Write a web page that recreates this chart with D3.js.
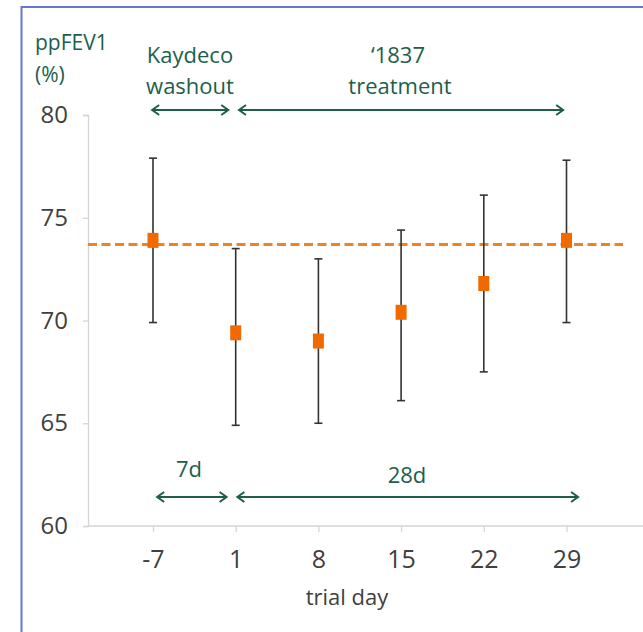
<!DOCTYPE html>
<head>
<meta charset="utf-8">
<script src="https://d3js.org/d3.v7.min.js"></script>
<style>
body { margin:0; background:white; }
text { font-family: "Open Sans", sans-serif; }
</style>
</head>
<body>
<div id="container"></div>
<script>
// data
const days = ["-7", "1", "8", "15", "22", "29"];
const means = [73.9, 69.4, 69.0, 70.4, 71.8, 73.9];
const upper = [77.9, 73.5, 73.0, 74.4, 76.1, 77.8];
const lower = [69.9, 64.9, 65.0, 66.1, 67.5, 69.9];
const baseline = 73.7;
const yTicks = [60, 65, 70, 75, 80];

// annotation arrows (day positions as fraction of category index)
const spans = [
    {from: -0.01, to: 0.91, row: "top"},
    {from: 1.04, to: 4.96, row: "top"},
    {from: 0.05, to: 0.89, row: "bottom"},
    {from: 1.02, to: 5.14, row: "bottom"}
];

const width = 643, height = 632;
const green = "#1d5e4d", grey = "#404040", axisCol = "#d4d4d4";

const svg = d3.select("#container").append("svg")
    .attr("width", width)
    .attr("height", height);

// frame
svg.append("path")
    .attr("d", "M21.5," + height + " V7 H" + width)
    .attr("fill", "none")
    .attr("stroke", "#6674d2")
    .attr("stroke-width", 2);

let y = d3.scaleLinear().domain([60, 80]).range([526, 115]);
let x = d3.scalePoint().domain(days).range([153, 566.5]);
let xi = d3.scaleLinear().domain([0, 5]).range([153, 566.5]);

// y axis
let gy = svg.append("g")
    .attr("transform", "translate(88,0)")
    .call(d3.axisLeft(y).tickValues(yTicks).tickSize(5).tickPadding(15));
gy.select(".domain").attr("stroke", axisCol).attr("stroke-width", 1.3);
gy.selectAll(".tick line").attr("stroke", axisCol).attr("stroke-width", 1.3);
gy.selectAll(".tick text")
    .attr("fill", grey)
    .style("font-size", "24px")
    .style("font-family", "Open Sans");

// x axis
let gx = svg.append("g")
    .attr("transform", "translate(0,526)")
    .call(d3.axisBottom(x).tickSize(6).tickPadding(18));
gx.select(".domain").remove();
gx.append("line")
    .attr("x1", 88).attr("x2", width)
    .attr("stroke", axisCol).attr("stroke-width", 1.3);
gx.selectAll(".tick line").attr("stroke", axisCol).attr("stroke-width", 1.3);
gx.selectAll(".tick text")
    .attr("fill", grey)
    .style("font-size", "25px")
    .style("font-family", "Open Sans");

svg.append("text")
    .attr("x", 347).attr("y", 605)
    .attr("text-anchor", "middle")
    .attr("fill", grey)
    .style("font-size", "22px")
    .text("trial day");

// y title
svg.append("text").attr("x", 35).attr("y", 50)
    .attr("fill", green).style("font-size", "21px").text("ppFEV1");
svg.append("text").attr("x", 35).attr("y", 82)
    .attr("fill", green).style("font-size", "21px").text("(%)");

// phase labels
let labels = [
    {t: "Kaydeco", x: 190, y: 63}, {t: "washout", x: 190, y: 94},
    {t: "\u20181837", x: 398, y: 63}, {t: "treatment", x: 400, y: 94},
    {t: "7d", x: 189, y: 477}, {t: "28d", x: 407, y: 483}
];
svg.selectAll(".lab").data(labels).enter().append("text")
    .attr("class", "lab")
    .attr("x", d => d.x).attr("y", d => d.y)
    .attr("text-anchor", "middle")
    .attr("fill", green)
    .style("font-size", "22px")
    .text(d => d.t);

// double arrows
svg.append("defs").append("marker")
    .attr("id", "head")
    .attr("viewBox", "0 0 12 12")
    .attr("refX", 10).attr("refY", 6)
    .attr("markerWidth", 12).attr("markerHeight", 12)
    .attr("markerUnits", "userSpaceOnUse")
    .attr("orient", "auto-start-reverse")
    .append("path")
    .attr("d", "M3,1 L10,6 L3,11")
    .attr("fill", "none")
    .attr("stroke", green)
    .attr("stroke-width", 2);

svg.selectAll(".span").data(spans).enter().append("line")
    .attr("class", "span")
    .attr("x1", d => xi(d.from)).attr("x2", d => xi(d.to))
    .attr("y1", d => d.row == "top" ? 110 : 497)
    .attr("y2", d => d.row == "top" ? 110 : 497)
    .attr("stroke", green)
    .attr("stroke-width", 2)
    .attr("marker-start", "url(#head)")
    .attr("marker-end", "url(#head)");

// baseline dashed
svg.append("line")
    .attr("x1", 88).attr("x2", 623)
    .attr("y1", y(baseline)).attr("y2", y(baseline))
    .attr("stroke", "#f0821f")
    .attr("stroke-width", 3)
    .attr("stroke-dasharray", "9,4.5");

// error bars
let pts = days.map((d, i) => ({day: d, m: means[i], hi: upper[i], lo: lower[i]}));
let eb = svg.selectAll(".eb").data(pts).enter().append("g").attr("class", "eb");
eb.append("line")
    .attr("x1", d => x(d.day)).attr("x2", d => x(d.day))
    .attr("y1", d => y(d.hi)).attr("y2", d => y(d.lo))
    .attr("stroke", "#333").attr("stroke-width", 1.6);
eb.append("line")
    .attr("x1", d => x(d.day) - 4).attr("x2", d => x(d.day) + 4)
    .attr("y1", d => y(d.hi)).attr("y2", d => y(d.hi))
    .attr("stroke", "#333").attr("stroke-width", 1.6);
eb.append("line")
    .attr("x1", d => x(d.day) - 4).attr("x2", d => x(d.day) + 4)
    .attr("y1", d => y(d.lo)).attr("y2", d => y(d.lo))
    .attr("stroke", "#333").attr("stroke-width", 1.6);

// mean markers
svg.selectAll(".pt").data(pts).enter().append("rect")
    .attr("class", "pt")
    .attr("x", d => x(d.day) - 5.5)
    .attr("y", d => y(d.m) - 7.5)
    .attr("width", 11).attr("height", 15)
    .attr("fill", "#f06a00");
</script>
</body>
